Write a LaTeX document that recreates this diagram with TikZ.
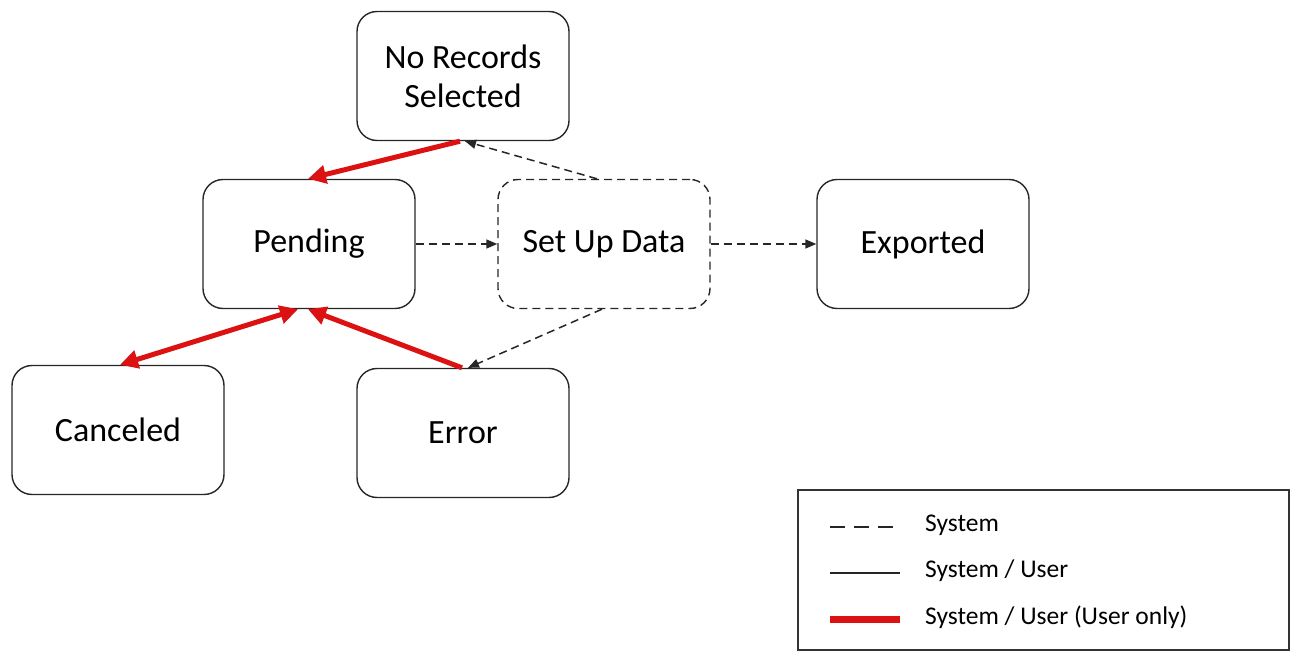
\documentclass[tikz,border=0pt]{standalone}
\usepackage{fontspec}
\setmainfont{Carlito}
\usetikzlibrary{arrows.meta,calc}
\definecolor{ured}{RGB}{220,18,18}
\tikzset{
  state/.style={draw=black!85, line width=1.4pt, rounded corners=20pt,
    minimum width=212pt, minimum height=129pt, align=center, inner sep=0pt,
    font=\fontsize{34}{39}\selectfont},
  sysline/.style={draw=black!85, line width=1.5pt, dash pattern=on 8pt off 5pt,
    -{Triangle[length=11pt,width=9pt]}},
  userline/.style={draw=ured, line width=5pt,
    -{Triangle[length=18pt,width=18pt]}},
  legtext/.style={anchor=west, font=\fontsize{25.5}{30}\selectfont, inner sep=0pt},
}
\begin{document}
\begin{tikzpicture}[x=1pt,y=-1pt]
\useasboundingbox (0,0) rectangle (1290,652);
\node[state] (norec) at (463,76) {No Records\\Selected};
\node[state] (pend) at (309,244) {Pending};
\node[state, dash pattern=on 8pt off 5pt] (setup) at (604,244) {Set Up Data};
\node[state] (exp) at (923,244) {Exported};
\node[state] (canc) at (118,430) {Canceled};
\node[state] (err) at (463,433) {Error};

\draw[userline] ([xshift=-3pt]norec.south) -- ([xshift=-1pt]pend.north);
\draw[sysline] ([xshift=-7pt]setup.north) -- ([xshift=2pt]norec.south);
\draw[sysline] (pend.east) -- (setup.west);
\draw[sysline] (setup.east) -- (exp.west);
\draw[sysline] ([xshift=-2pt]setup.south) -- ([xshift=5pt]err.north);
\draw[userline] ([xshift=-1pt]err.north) -- ([xshift=-1pt]pend.south);
\draw[userline, {Triangle[length=18pt,width=18pt]}-{Triangle[length=18pt,width=18pt]}] ([xshift=-11pt]pend.south) -- ([xshift=2pt]canc.north);

% legend
\draw[draw=black!80, line width=1.2pt] (798,490) rectangle (1289,650);
\coordinate (l1a) at (830,527); \coordinate (l1b) at (896,527);
\coordinate (l2a) at (830,573); \coordinate (l2b) at (900,573);
\coordinate (l3a) at (830,619); \coordinate (l3b) at (900,619);
\draw[draw=black!85, line width=1.3pt, dash pattern=on 15pt off 9pt] (l1a) -- (l1b);
\draw[draw=black!85, line width=1.3pt] (l2a) -- (l2b);
\draw[draw=ured, line width=7pt] (l3a) -- (l3b);
\node[legtext] (t1) at (925,525) {System};
\node[legtext] (t2) at (925,571) {System / User};
\node[legtext] (t3) at (925,617) {System / User (User only)};
\end{tikzpicture}
\end{document}
